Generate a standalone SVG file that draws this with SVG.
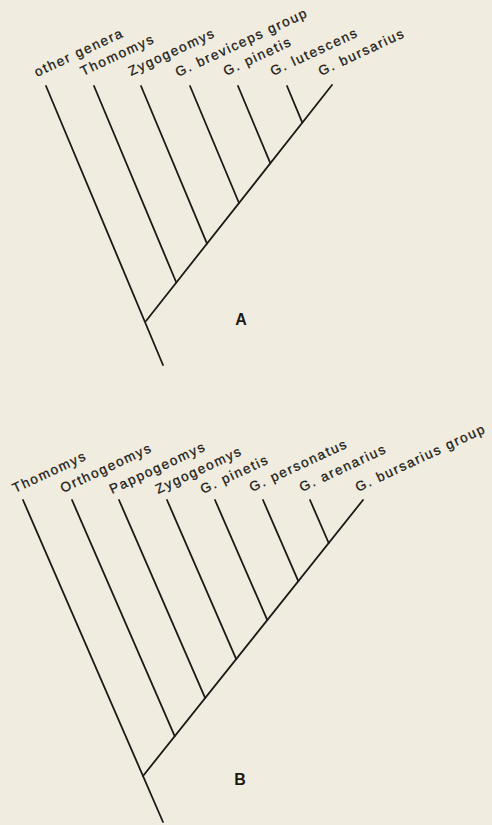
<svg xmlns="http://www.w3.org/2000/svg" width="492" height="825" viewBox="0 0 492 825">
<style>
.bg{fill:#f0ede0}
.ln{stroke:#1c1a17;stroke-width:1.8;fill:none;stroke-linecap:round}
.lb{font-family:"Liberation Sans",Arial,sans-serif;font-size:13.5px;letter-spacing:1.7px;fill:#1c1a17;stroke:#1c1a17;stroke-width:0.3}
.big{font-family:"Liberation Sans",Arial,sans-serif;font-size:16px;font-weight:bold;fill:#1c1a17;text-anchor:middle}
</style>
<rect class="bg" x="0" y="0" width="492" height="825"/>
<g id="connectors">
<g id="treeA">
<line class="ln" x1="46" y1="86" x2="163" y2="365"/>
<line class="ln" x1="146" y1="321" x2="332" y2="85"/>
<line class="ln" x1="94" y1="86" x2="176.3" y2="282.5"/>
<line class="ln" x1="141" y1="86" x2="207" y2="243.6"/>
<line class="ln" x1="190" y1="86" x2="239" y2="203"/>
<line class="ln" x1="238" y1="86" x2="270.3" y2="163.2"/>
<line class="ln" x1="287" y1="86" x2="302.3" y2="122.6"/>
</g>
<g id="treeB">
<line class="ln" x1="23" y1="500" x2="163" y2="822"/>
<line class="ln" x1="143" y1="776" x2="363" y2="500"/>
<line class="ln" x1="72" y1="500" x2="174.7" y2="736.2"/>
<line class="ln" x1="119" y1="500" x2="205.2" y2="698.1"/>
<line class="ln" x1="167" y1="500" x2="236.2" y2="659.1"/>
<line class="ln" x1="215" y1="500" x2="267.3" y2="620.1"/>
<line class="ln" x1="263" y1="500" x2="298.3" y2="581.2"/>
<line class="ln" x1="310" y1="500" x2="328.7" y2="543"/>
</g>
</g>
<g id="labelsA">
<g id="a-other"><text class="lb" transform="translate(37,77) rotate(-25)">other genera</text></g>
<g id="a-thomomys"><text class="lb" transform="translate(83,76) rotate(-25)">Thomomys</text></g>
<g id="a-zygogeomys"><text class="lb" transform="translate(131,76) rotate(-25)">Zygogeomys</text></g>
<g id="a-breviceps"><text class="lb" transform="translate(178,77) rotate(-25)">G. breviceps group</text></g>
<g id="a-pinetis"><text class="lb" transform="translate(226,76) rotate(-25)">G. pinetis</text></g>
<g id="a-lutescens"><text class="lb" transform="translate(273,76) rotate(-25)">G. lutescens</text></g>
<g id="a-bursarius"><text class="lb" transform="translate(321,76) rotate(-25)">G. bursarius</text></g>
<g id="a-letter"><text class="big" x="241" y="325">A</text></g>
</g>
<g id="labelsB">
<g id="b-thomomys"><text class="lb" transform="translate(15,493) rotate(-25)">Thomomys</text></g>
<g id="b-orthogeomys"><text class="lb" transform="translate(63,493) rotate(-25)">Orthogeomys</text></g>
<g id="b-pappogeomys"><text class="lb" transform="translate(112,494) rotate(-25)">Pappogeomys</text></g>
<g id="b-zygogeomys"><text class="lb" transform="translate(158,494) rotate(-25)">Zygogeomys</text></g>
<g id="b-pinetis"><text class="lb" transform="translate(203,494) rotate(-25)">G. pinetis</text></g>
<g id="b-personatus"><text class="lb" transform="translate(252,492) rotate(-25)">G. personatus</text></g>
<g id="b-arenarius"><text class="lb" transform="translate(302,492) rotate(-25)">G. arenarius</text></g>
<g id="b-bursarius"><text class="lb" transform="translate(358,492) rotate(-25)">G. bursarius group</text></g>
<g id="b-letter"><text class="big" x="240" y="785">B</text></g>
</g>
</svg>
